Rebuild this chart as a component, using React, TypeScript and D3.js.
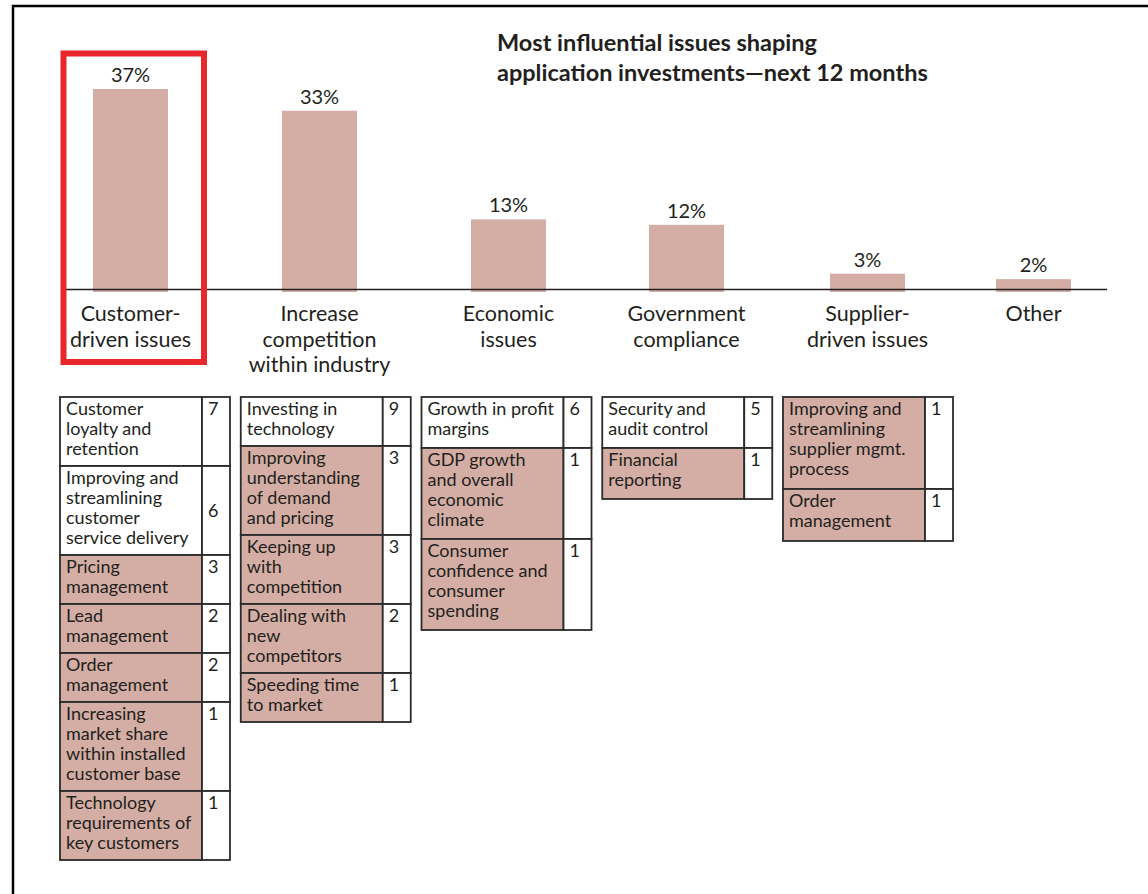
import * as d3 from "d3"
import { useEffect, useRef } from "react"

const WIDTH = 1148
const HEIGHT = 894
const FONT = "Lato, 'Open Sans', sans-serif"
const INK = "#231f20"
const FILL = "#d4aea4"

// bar chart data
const CATEGORY_LINES = [
  ["Customer-", "driven issues"],
  ["Increase", "competition", "within industry"],
  ["Economic", "issues"],
  ["Government", "compliance"],
  ["Supplier-", "driven issues"],
  ["Other"],
]
const SHARES = [37, 33, 13, 12, 3, 2]
const TITLE_LINES = [
  "Most influential issues shaping",
  "application investments\u2014next 12 months",
]

type Row = { lines: string[]; count: number; top: boolean }

// breakdown tables below each category (top = white rows)
const CUSTOMER_ROWS: Row[] = [
  { lines: ["Customer", "loyalty and", "retention"], count: 7, top: true },
  { lines: ["Improving and", "streamlining", "customer", "service delivery"], count: 6, top: true },
  { lines: ["Pricing", "management"], count: 3, top: false },
  { lines: ["Lead", "management"], count: 2, top: false },
  { lines: ["Order", "management"], count: 2, top: false },
  { lines: ["Increasing", "market share", "within installed", "customer base"], count: 1, top: false },
  { lines: ["Technology", "requirements of", "key customers"], count: 1, top: false },
]
const COMPETITION_ROWS: Row[] = [
  { lines: ["Investing in", "technology"], count: 9, top: true },
  { lines: ["Improving", "understanding", "of demand", "and pricing"], count: 3, top: false },
  { lines: ["Keeping up", "with", "competition"], count: 3, top: false },
  { lines: ["Dealing with", "new", "competitors"], count: 2, top: false },
  { lines: ["Speeding time", "to market"], count: 1, top: false },
]
const ECONOMIC_ROWS: Row[] = [
  { lines: ["Growth in profit", "margins"], count: 6, top: true },
  { lines: ["GDP growth", "and overall", "economic", "climate"], count: 1, top: false },
  { lines: ["Consumer", "confidence and", "consumer", "spending"], count: 1, top: false },
]
const GOVERNMENT_ROWS: Row[] = [
  { lines: ["Security and", "audit control"], count: 5, top: true },
  { lines: ["Financial", "reporting"], count: 1, top: false },
]
const SUPPLIER_ROWS: Row[] = [
  { lines: ["Improving and", "streamlining", "supplier mgmt.", "process"], count: 1, top: false },
  { lines: ["Order", "management"], count: 1, top: false },
]
const SUB_TABLES = [CUSTOMER_ROWS, COMPETITION_ROWS, ECONOMIC_ROWS, GOVERNMENT_ROWS, SUPPLIER_ROWS]

// layout
const BAR_CENTERS = [130.5, 319.5, 508.5, 686.5, 867.5, 1033.5]
const BAR_W = 75
const BASE_Y = 290
const TOP_Y = 89
const AXIS_X = [66, 1107]
const TABLE_TOP = 397
const TABLE_X = [60, 783]
const TABLE_W = 170
const NUM_W = 28
const LINE_H = 20
// right-hand tables are drawn a little looser in the original
const ROW_PAD = [9, 9, 11, 11, 12]

const App = () => {
  const svgRef = useRef<SVGSVGElement>(null)

  useEffect(() => {
    if (!svgRef.current) return
    const svg = d3.select(svgRef.current)
    svg.selectAll("*").remove()

    svg.append("rect").attr("width", WIDTH).attr("height", HEIGHT).attr("fill", "#fff")

    // frame (top + left edge only)
    svg
      .append("path")
      .attr("d", `M13,${HEIGHT} V6 H${WIDTH}`)
      .attr("fill", "none")
      .attr("stroke", "#000")
      .attr("stroke-width", 2.5)

    // title
    svg
      .append("g")
      .selectAll("text")
      .data(TITLE_LINES)
      .join("text")
      .attr("x", 497)
      .attr("y", (_, i) => 51 + i * 30)
      .attr("font-family", FONT)
      .attr("font-weight", 700)
      .attr("font-size", 23.5)
      .attr("fill", INK)
      .text((d) => d)

    const idx = SHARES.map((_, i) => i)
    const xScale = d3.scaleOrdinal<number, number>().domain(idx).range(BAR_CENTERS)
    const yScale = d3
      .scaleLinear()
      .domain([0, d3.max(SHARES) as number])
      .range([BASE_Y, TOP_Y])

    svg
      .append("g")
      .selectAll("rect")
      .data(SHARES)
      .join("rect")
      .attr("x", (_, i) => xScale(i) - BAR_W / 2)
      .attr("y", (d) => yScale(d))
      .attr("width", BAR_W)
      .attr("height", (d) => BASE_Y + 2 - yScale(d))
      .attr("fill", FILL)

    svg
      .append("g")
      .selectAll("text")
      .data(SHARES)
      .join("text")
      .attr("x", (_, i) => xScale(i))
      .attr("y", (d) => yScale(d) - 7)
      .attr("text-anchor", "middle")
      .attr("font-family", FONT)
      .attr("font-size", 20)
      .attr("fill", INK)
      .text((d) => `${d}%`)

    svg
      .append("line")
      .attr("x1", AXIS_X[0])
      .attr("x2", AXIS_X[1])
      .attr("y1", BASE_Y - 0.5)
      .attr("y2", BASE_Y - 0.5)
      .attr("stroke", INK)
      .attr("stroke-width", 1.5)

    // category labels
    CATEGORY_LINES.forEach((lines, i) => {
      svg
        .append("g")
        .selectAll("text")
        .data(lines)
        .join("text")
        .attr("x", xScale(i))
        .attr("y", (_, j) => 321 + j * 25.5)
        .attr("text-anchor", "middle")
        .attr("font-family", FONT)
        .attr("font-size", 21.5)
        .attr("fill", INK)
        .text((d) => d)
    })

    // highlight box around first category
    svg
      .append("rect")
      .attr("x", xScale(0) - 67)
      .attr("y", 53.5)
      .attr("width", 140.5)
      .attr("height", 308.5)
      .attr("fill", "none")
      .attr("stroke", "#e8262b")
      .attr("stroke-width", 6)

    // tables
    const tableX = d3.scaleLinear().domain([0, SUB_TABLES.length - 1]).range(TABLE_X)
    SUB_TABLES.forEach((rows, ti) => {
      const left = tableX(ti)
      const g = svg.append("g")
      let y0 = TABLE_TOP
      rows.forEach((row, ri) => {
        const h = row.lines.length * LINE_H + ROW_PAD[ti]
        g.append("rect")
          .attr("x", left)
          .attr("y", y0)
          .attr("width", TABLE_W - NUM_W)
          .attr("height", h)
          .attr("fill", row.top ? "#fff" : FILL)
          .attr("stroke", "#2b2b2b")
          .attr("stroke-width", 1.8)
        g.append("rect")
          .attr("x", left + TABLE_W - NUM_W)
          .attr("y", y0)
          .attr("width", NUM_W)
          .attr("height", h)
          .attr("fill", "#fff")
          .attr("stroke", "#2b2b2b")
          .attr("stroke-width", 1.8)
        row.lines.forEach((ln, j) => {
          g.append("text")
            .attr("x", left + 6)
            .attr("y", y0 + 18 + j * LINE_H)
            .attr("font-family", FONT)
            .attr("font-size", 18)
            .attr("fill", INK)
            .text(ln)
        })
        // the "6" in the first table sits mid-row
        const numY = ti === 0 && ri === 1 ? y0 + h / 2 + 6 : y0 + 18
        g.append("text")
          .attr("x", left + TABLE_W - NUM_W + 6)
          .attr("y", numY)
          .attr("font-family", FONT)
          .attr("font-size", 18)
          .attr("fill", INK)
          .text(row.count)
        y0 += h
      })
    })
  }, [])

  return (
    <svg
      ref={svgRef}
      width={WIDTH}
      height={HEIGHT}
      style={{ position: "absolute", left: 0, top: 0, display: "block" }}
    />
  )
}

export default App
